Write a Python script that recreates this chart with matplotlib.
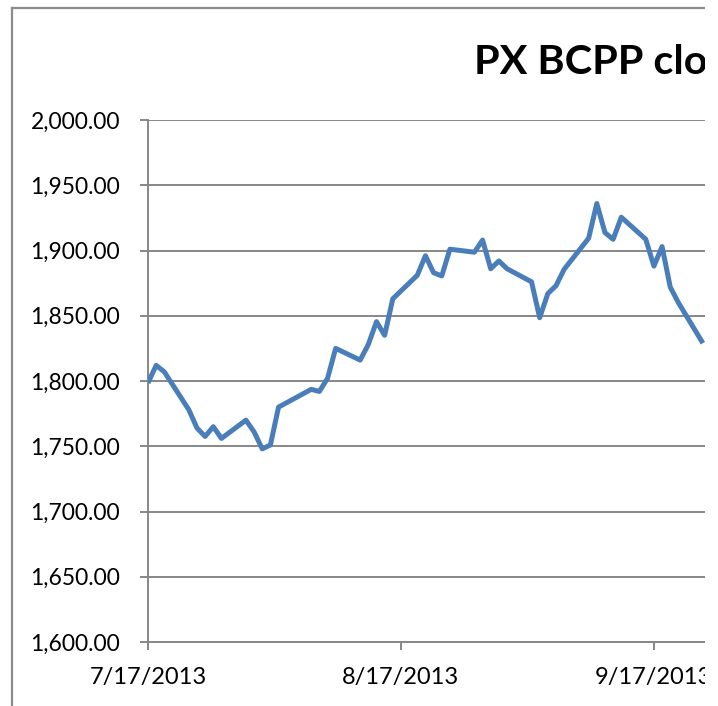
import datetime as dt
import matplotlib
matplotlib.use("Agg")
import matplotlib.pyplot as plt
import matplotlib.dates as mdates
from matplotlib.ticker import FuncFormatter, MultipleLocator
from matplotlib.lines import Line2D
from matplotlib.patches import Rectangle

# PX BCPP closing values
dates = ["2013-07-17", "2013-07-18", "2013-07-19", "2013-07-22", "2013-07-23",
         "2013-07-24", "2013-07-25", "2013-07-26", "2013-07-29", "2013-07-30",
         "2013-07-31", "2013-08-01", "2013-08-02", "2013-08-06", "2013-08-07",
         "2013-08-08", "2013-08-09", "2013-08-12", "2013-08-13", "2013-08-14",
         "2013-08-15", "2013-08-16", "2013-08-19", "2013-08-20", "2013-08-21",
         "2013-08-22", "2013-08-23", "2013-08-26", "2013-08-27", "2013-08-28",
         "2013-08-29", "2013-08-30", "2013-09-02", "2013-09-03", "2013-09-04",
         "2013-09-05", "2013-09-06", "2013-09-09", "2013-09-10", "2013-09-11",
         "2013-09-12", "2013-09-13", "2013-09-16", "2013-09-17", "2013-09-18",
         "2013-09-19", "2013-09-20", "2013-09-23"]
close = [1798.5, 1812, 1807, 1778, 1764,
         1757.5, 1765, 1756, 1770, 1761,
         1748, 1751, 1780, 1793.6, 1792,
         1802, 1825, 1816, 1828, 1845.5,
         1835, 1863, 1881, 1896, 1883,
         1880.5, 1901, 1898.7, 1908, 1886,
         1892, 1886, 1876, 1848.5, 1867,
         1873, 1885.6, 1909.4, 1936, 1913.7,
         1908.6, 1925.5, 1908.6, 1888, 1903,
         1872, 1860, 1829]
tick_dates = ["2013-07-17", "2013-08-17", "2013-09-17"]

x = [dt.datetime.strptime(d, "%Y-%m-%d") for d in dates]
ticks = [dt.datetime.strptime(d, "%Y-%m-%d") for d in tick_dates]

W, H = 718, 706
fig = plt.figure(figsize=(W / 100, H / 100), dpi=100)
plt.rcParams['font.family'] = ['Lato', 'DejaVu Sans']
grey = "#878787"

ax = fig.add_axes([148 / W, (H - 642) / H, (705 - 148) / W, (642 - 120) / H])
ax.plot(x, close, color="#4a7ebb", lw=3.6, solid_joinstyle="round",
        solid_capstyle="butt", zorder=3)

ax.set_ylim(1600, 2000)
ax.yaxis.set_major_locator(MultipleLocator(50))
ax.yaxis.set_major_formatter(FuncFormatter(lambda v, p: f"{v:,.2f}"))
ax.grid(axis="y", color=grey, lw=1.4)

start = ticks[0]
ax.set_xlim(start, start + dt.timedelta(days=(705 - 148) / 8.16))
ax.set_xticks(ticks)
ax.xaxis.set_major_formatter(FuncFormatter(
    lambda v, p: (lambda d: f"{d.month}/{d.day}/{d.year}")(mdates.num2date(v))))

for s in ["top", "right"]:
    ax.spines[s].set_visible(False)
for s in ["left", "bottom"]:
    ax.spines[s].set_color(grey)
    ax.spines[s].set_linewidth(1.4)
ax.tick_params(axis="both", colors=grey, length=6, width=1.4, labelcolor="black")
ax.tick_params(axis="y", pad=14, labelsize=16.5)
ax.tick_params(axis="x", pad=12, labelsize=17)

# title (chart is cut off on the right)
fig.text(474 / W, 1 - 62 / H, "PX BCPP clo", fontsize=29.8, fontweight="bold",
         ha="left", va="center")

# outer chart border
fig.add_artist(Line2D([11.5 / W, 705 / W], [1 - 8 / H, 1 - 8 / H], color="#8c8c8c", lw=1.6))
fig.add_artist(Line2D([11.5 / W, 11.5 / W], [0, 1 - 8 / H], color="#8c8c8c", lw=1.6))

# the source image is cropped at x=705
fig.add_artist(Rectangle((705 / W, 0), 1, 1, transform=fig.transFigure,
                         facecolor="white", edgecolor="none", zorder=10))

fig.savefig("out.png", dpi=100)
